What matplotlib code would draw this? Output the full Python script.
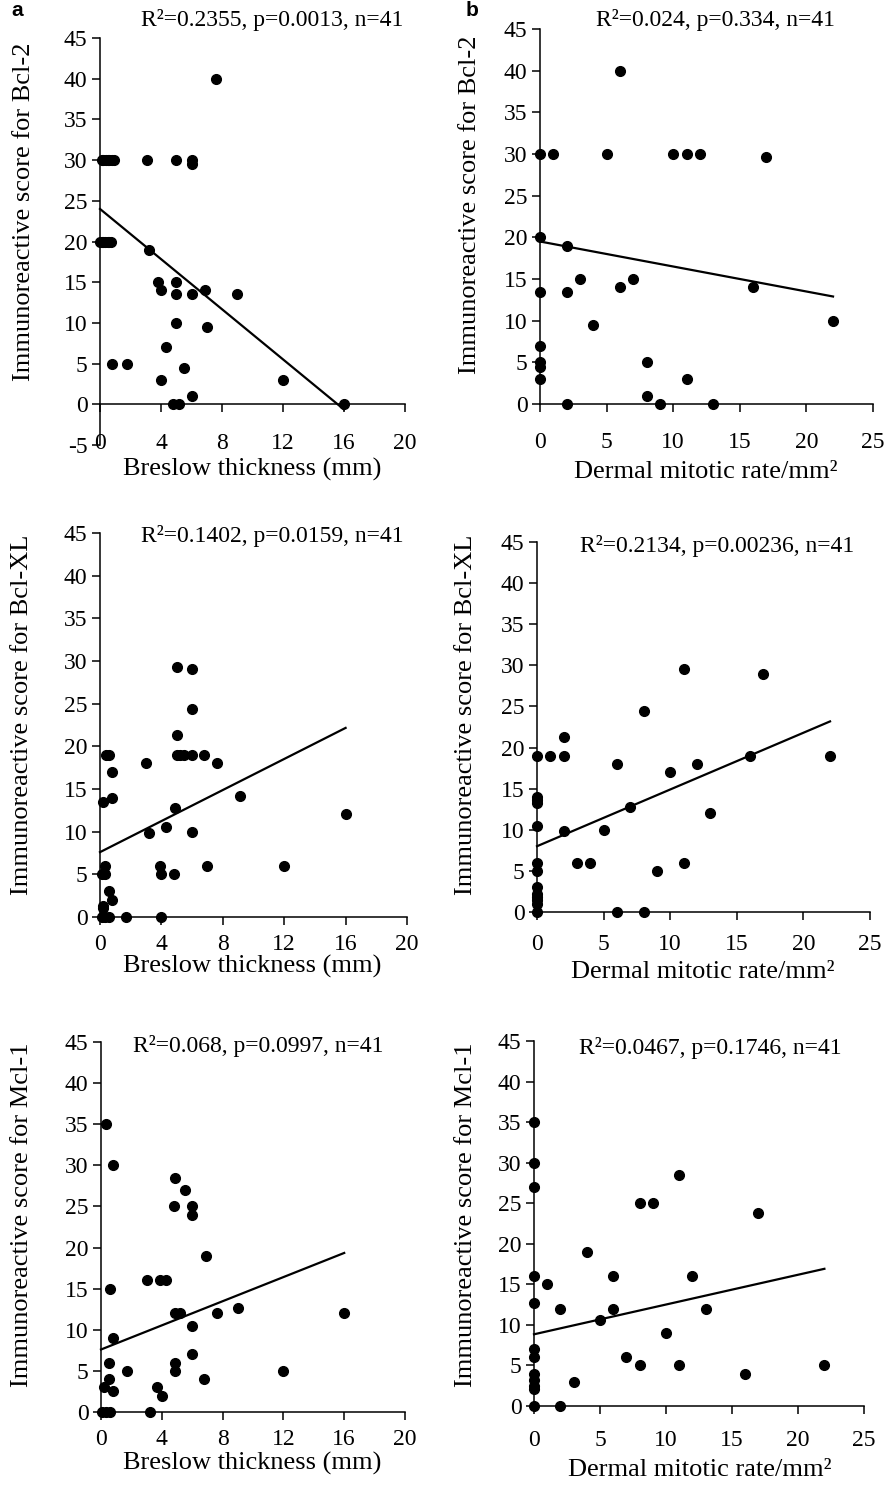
import matplotlib
matplotlib.use("Agg")
import matplotlib.pyplot as plt
import numpy as np

plt.rcParams['font.family'] = ['Liberation Serif', 'DejaVu Serif']
plt.rcParams['axes.unicode_minus'] = False

W, H = 886, 1488

# ---- data ----
# Bcl-2 vs Breslow thickness
breslow_bcl2_x = [7.6, 0.1, 0.2, 0.4, 0.5, 0.6, 0.8, 0.9, 3.1, 5.0, 6.0, 6.0,
                  0.0, 0.1, 0.2, 0.3, 0.5, 0.6, 0.7, 3.2, 3.8, 4.0, 5.0, 5.0,
                  6.0, 6.9, 9.0, 5.0, 7.0, 4.3, 0.8, 1.8, 5.5, 4.0, 12.0, 6.0,
                  4.8, 5.2, 16.0]
breslow_bcl2_y = [40, 30, 30, 30, 30, 30, 30, 30, 30, 30, 30, 29.5,
                  20, 20, 20, 20, 20, 20, 20, 19, 15, 14, 15, 13.5,
                  13.5, 14, 13.5, 10, 9.5, 7, 5, 5, 4.5, 3, 3, 1,
                  0, 0, 0]
fit_breslow_bcl2 = (24.0, -1.54, 16)   # intercept, slope, max x

# Bcl-2 vs dermal mitotic rate
mitotic_bcl2_x = [6, 0, 1, 5, 10, 11, 12, 17, 0, 2, 3, 7, 6, 0, 2, 16, 4, 22,
                  0, 0, 0, 0, 8, 11, 8, 2, 9, 13]
mitotic_bcl2_y = [40, 30, 30, 30, 30, 30, 30, 29.7, 20, 19, 15, 15, 14, 13.5,
                  13.5, 14, 9.5, 10, 7, 5, 4.5, 3, 5, 3, 1, 0, 0, 0]
fit_mitotic_bcl2 = (19.5, -0.30, 22)

# Bcl-XL vs Breslow thickness
breslow_bclxl_x = [5.0, 6.0, 6.0, 5.0, 0.4, 0.6, 5.0, 5.2, 5.5, 6.0, 6.8, 3.0,
                   7.6, 0.8, 0.8, 0.2, 9.1, 4.9, 16.0, 3.2, 4.3, 6.0, 0.3, 0.1,
                   0.3, 3.9, 4.0, 4.8, 7.0, 12.0, 0.6, 0.8, 0.2, 0.2, 0.1, 0.3,
                   0.6, 1.7, 4.0]
breslow_bclxl_y = [29.3, 29.1, 24.4, 21.3, 19, 19, 19, 19, 19, 19, 19, 18,
                   18, 17, 14, 13.5, 14.2, 12.8, 12.1, 9.8, 10.5, 10, 6, 5,
                   5, 6, 5, 5, 6, 6, 3, 2, 1.3, 1, 0, 0,
                   0, 0, 0]
fit_breslow_bclxl = (7.6, 0.91, 16)

# Bcl-XL vs dermal mitotic rate
mitotic_bclxl_x = [11, 17, 8, 2, 0, 1, 2, 16, 22, 6, 12, 10, 0, 0, 0, 7, 13, 0,
                   2, 5, 3, 4, 11, 0, 0, 9, 0, 0, 0, 0, 0, 6, 8, 0]
mitotic_bclxl_y = [29.5, 29, 24.5, 21.3, 19, 19, 19, 19, 19, 18, 18, 17, 14,
                   13.6, 13.3, 12.8, 12, 10.5, 9.8, 10, 6, 6, 6, 6, 5, 5, 3,
                   2.2, 1.8, 1.4, 1, 0, 0, 0]
fit_mitotic_bclxl = (8.0, 0.69, 22)

# Mcl-1 vs Breslow thickness
breslow_mcl1_x = [0.3, 0.8, 4.9, 5.5, 4.8, 6.0, 6.0, 6.9, 0.6, 3.0, 3.9, 4.3,
                  9.0, 4.9, 5.2, 7.6, 16.0, 6.0, 0.8, 6.0, 0.5, 4.9, 1.7, 4.9,
                  12.0, 0.5, 6.8, 0.2, 0.8, 3.7, 4.0, 3.2, 0.05, 0.3, 0.6]
breslow_mcl1_y = [35, 30, 28.5, 27, 25, 25, 24, 19, 15, 16, 16, 16,
                  12.7, 12, 12, 12, 12, 10.5, 9, 7, 6, 6, 5, 5,
                  5, 4, 4, 3, 2.5, 3, 2, 0, 0, 0, 0]
fit_breslow_mcl1 = (7.6, 0.734, 16)

# Mcl-1 vs dermal mitotic rate
mitotic_mcl1_x = [0, 0, 0, 11, 8, 9, 17, 4, 0, 6, 12, 1, 0, 2, 6, 13, 5, 10,
                  0, 0, 7, 8, 11, 22, 16, 3, 0, 0, 0, 0, 2, 0]
mitotic_mcl1_y = [35, 30, 27, 28.5, 25, 25, 23.8, 19, 16, 16, 16, 15, 12.7,
                  12, 12, 12, 10.6, 9, 7, 6, 6, 5, 5, 5, 4, 3, 4, 3.2, 2.5,
                  2.1, 0, 0]
fit_mitotic_mcl1 = (8.84, 0.367, 22)

stats_text = ["R²=0.2355, p=0.0013, n=41", "R²=0.024, p=0.334, n=41",
              "R²=0.1402, p=0.0159, n=41", "R²=0.2134, p=0.00236, n=41",
              "R²=0.068, p=0.0997, n=41", "R²=0.0467, p=0.1746, n=41"]
ylabels = ["Immunoreactive score for Bcl-2", "Immunoreactive score for Bcl-2",
           "Immunoreactive score for Bcl-XL", "Immunoreactive score for Bcl-XL",
           "Immunoreactive score for Mcl-1", "Immunoreactive score for Mcl-1"]
xlabels = ["Breslow thickness (mm)", "Dermal mitotic rate/mm²"] * 3


def px_rect(l, r, t, b):
    return [l / W, 1 - b / H, (r - l) / W, (b - t) / H]


def px_text(fig, x, y, s, **kw):
    fig.text(x / W, 1 - y / H, s, ha='center', va='center', **kw)


panels = [
    dict(x=breslow_bcl2_x, y=breslow_bcl2_y, fit=fit_breslow_bcl2,
         rect=(100, 405, 38, 445), xmax=20, xstep=4, ymin=-5, pad=15,
         stat=(272, 20), ylab=(24, 212), xlab=(252, 469)),
    dict(x=mitotic_bcl2_x, y=mitotic_bcl2_y, fit=fit_mitotic_bcl2,
         rect=(540, 873, 29, 404), xmax=25, xstep=5, ymin=0, pad=14,
         stat=(715, 20), ylab=(470, 205), xlab=(706, 472)),
    dict(x=breslow_bclxl_x, y=breslow_bclxl_y, fit=fit_breslow_bclxl,
         rect=(100, 407, 533, 917), xmax=20, xstep=4, ymin=0, pad=6.5,
         stat=(272, 536), ylab=(22, 715), xlab=(252, 966)),
    dict(x=mitotic_bclxl_x, y=mitotic_bclxl_y, fit=fit_mitotic_bclxl,
         rect=(537, 870, 542, 912), xmax=25, xstep=5, ymin=0, pad=10,
         stat=(717, 546), ylab=(466, 715), xlab=(703, 972)),
    dict(x=breslow_mcl1_x, y=breslow_mcl1_y, fit=fit_breslow_mcl1,
         rect=(101, 405, 1042, 1412), xmax=20, xstep=4, ymin=0, pad=6.5,
         stat=(258, 1046), ylab=(22, 1215), xlab=(252, 1463)),
    dict(x=mitotic_mcl1_x, y=mitotic_mcl1_y, fit=fit_mitotic_mcl1,
         rect=(534, 864, 1041, 1406), xmax=25, xstep=5, ymin=0, pad=11,
         stat=(710, 1048), ylab=(466, 1215), xlab=(700, 1470)),
]

fig = plt.figure(figsize=(W / 100, H / 100), dpi=100)

for i, p in enumerate(panels):
    ax = fig.add_axes(px_rect(*p['rect']))
    ax.plot(p['x'], p['y'], 'o', color='black', ms=7, clip_on=False, zorder=3)

    b0, slope, xend = p['fit']
    xs = np.array([0, xend])
    ax.plot(xs, b0 + slope * xs, color='black', lw=1.6, clip_on=False, zorder=2)

    ax.set_xlim(0, p['xmax'])
    ax.set_ylim(p['ymin'], 45)
    ax.set_xticks(np.arange(0, p['xmax'] + 1, p['xstep']))
    ax.set_yticks(np.arange(p['ymin'], 46, 5))
    ax.spines[['top', 'right']].set_visible(False)
    ax.spines['bottom'].set_position(('data', 0))
    for s in ['left', 'bottom']:
        ax.spines[s].set_linewidth(1.1)
    ax.tick_params(axis='both', direction='out', length=6, width=1.1,
                   labelsize=17, colors='black')
    ax.tick_params(axis='y', pad=3)
    ax.tick_params(axis='x', pad=p['pad'])
    ax.patch.set_alpha(0)

    px_text(fig, *p['stat'], stats_text[i], fontsize=17)
    px_text(fig, *p['ylab'], ylabels[i], fontsize=19, rotation=90)
    px_text(fig, *p['xlab'], xlabels[i], fontsize=19)

px_text(fig, 17, 11, "a", fontsize=15, fontweight='bold', family='Liberation Sans')
px_text(fig, 472, 11, "b", fontsize=15, fontweight='bold', family='Liberation Sans')

fig.savefig("out.png", dpi=100)
